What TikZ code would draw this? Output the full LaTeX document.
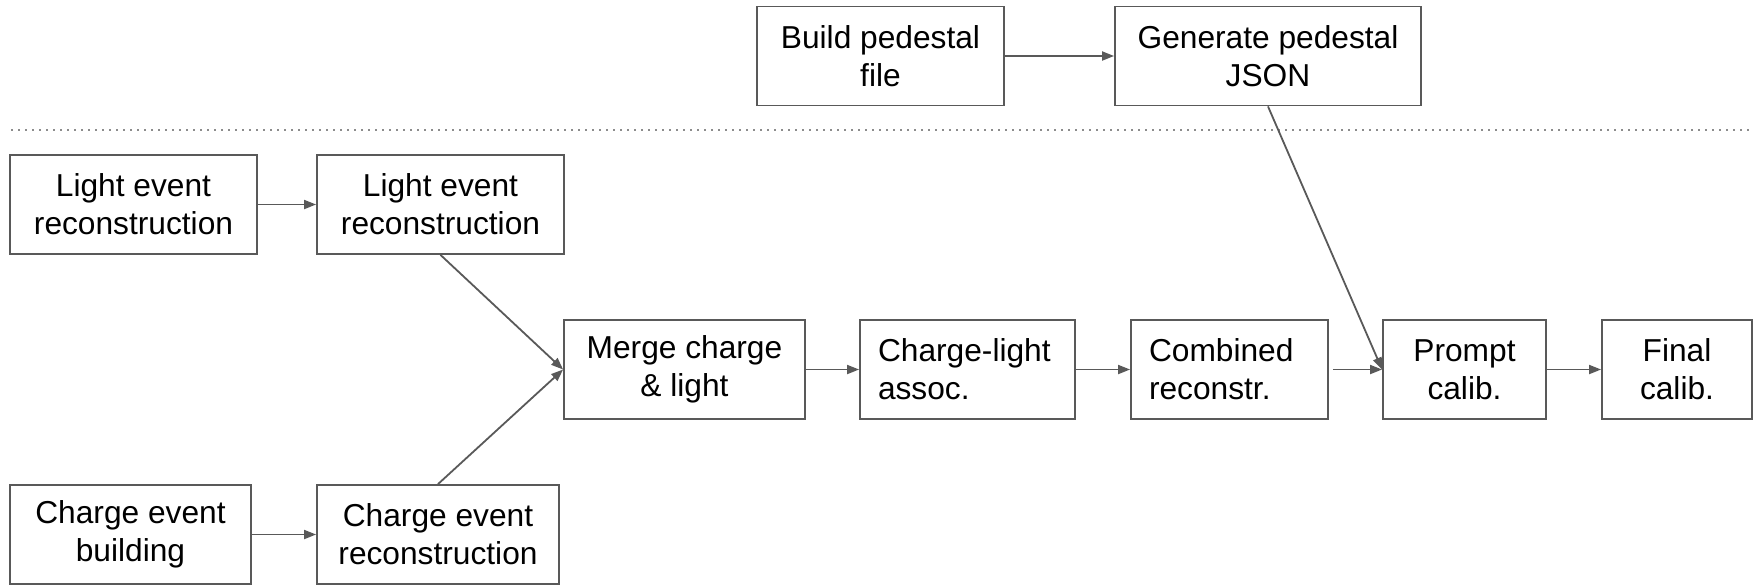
\documentclass[tikz,border=0pt]{standalone}
\usepackage{fontspec}
\setmainfont{Liberation Sans}
\usetikzlibrary{arrows.meta}
\definecolor{linec}{HTML}{595959}
\definecolor{dotc}{HTML}{8C8C8C}
\tikzset{
  box/.style={draw=linec, line width=0.9pt, minimum height=49.5pt, inner sep=0pt,
    align=center, font=\fontsize{15.85pt}{18.9pt}\selectfont, text=black},
  lbox/.style={box, align=left, inner xsep=9pt},
  conn/.style={draw=linec, line width=0.9pt, -{Triangle[length=6pt,width=4.5pt]}},
  sep/.style={draw=dotc, line width=0.8pt, dash pattern=on 0.9pt off 2.6pt}
}
\begin{document}
\begin{tikzpicture}[x=0.5pt,y=-0.5pt]
\useasboundingbox (0,0) rectangle (1753,585);
% top row
\node[box, minimum width=123.5pt] (build) at (880.5,56) {Build pedestal\\file};
\node[box, minimum width=153pt] (gen) at (1268,56) {Generate pedestal\\JSON};
% separator
\coordinate (sepL) at (11,130);
\coordinate (sepR) at (1753,130);
\draw[sep] (sepL) -- (sepR);
% left columns
\node[box, minimum width=123.5pt] (l1) at (133.5,204.5) {Light event\\reconstruction};
\node[box, minimum width=123.5pt] (l2) at (440.5,204.5) {Light event\\reconstruction};
\node[box, minimum width=120.5pt] (c1) at (130.5,534.5) {Charge event\\building};
\node[box, minimum width=121pt] (c2) at (438,534.5) {Charge event\\reconstruction};
% main row
\node[box, minimum width=120.5pt] (merge) at (684.5,369.5) {Merge charge\\\& light};
\node[lbox, text width=89.5pt] (assoc) at (967.5,369.5) {Charge-light\\assoc.};
\node[lbox, text width=80.5pt] (comb) at (1229.5,369.5) {Combined\\reconstr.};
\node[box, minimum width=81.5pt] (prompt) at (1464.5,369.5) {Prompt\\calib.};
\node[box, minimum width=75pt] (final) at (1677,369.5) {Final\\calib.};
% connectors
\draw[conn] (build) -- (gen);
\draw[conn] (l1) -- (l2);
\draw[conn] (c1) -- (c2);
\draw[conn] (l2.south) -- (merge.west);
\draw[conn] (c2.north) -- (merge.west);
\draw[conn] (merge) -- (assoc);
\draw[conn] (assoc) -- (comb);
\draw[conn, shorten <=2pt] (comb) -- (prompt);
\draw[conn] (gen.south) -- (prompt.west);
\draw[conn] (prompt) -- (final);
\end{tikzpicture}
\end{document}
